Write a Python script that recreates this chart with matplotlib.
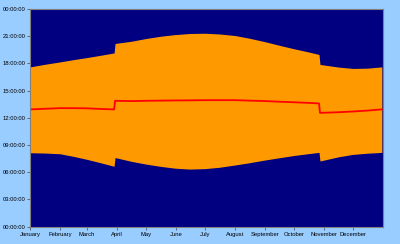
import matplotlib
matplotlib.use("Agg")
from matplotlib import pyplot as plt

# day of year (0 = 1 January), times in hours
days = [0, 15, 31, 45, 59, 73, 87, 88, 105, 120, 135, 150, 165, 181, 196, 212,
        227, 243, 258, 273, 288, 299, 300, 319, 334, 349, 364]
sunrise = [8.15, 8.12, 8.04, 7.75, 7.42, 7.05, 6.66, 7.62, 7.2, 6.9, 6.65, 6.45,
           6.35, 6.4, 6.55, 6.8, 7.05, 7.35, 7.6, 7.85, 8.05, 8.19, 7.24, 7.7,
           7.97, 8.1, 8.19]
sunset = [17.62, 17.9, 18.17, 18.42, 18.65, 18.9, 19.16, 20.2, 20.45, 20.75,
          21.0, 21.18, 21.3, 21.33, 21.25, 21.08, 20.78, 20.4, 20.0, 19.62,
          19.27, 18.99, 17.89, 17.6, 17.45, 17.48, 17.62]
midday = [12.93, 13.0, 13.07, 13.07, 13.05, 12.98, 12.93, 13.88, 13.85, 13.88,
          13.9, 13.92, 13.93, 13.95, 13.95, 13.95, 13.9, 13.85, 13.78, 13.72,
          13.65, 13.59, 12.55, 12.62, 12.7, 12.8, 12.93]

months = ["January", "February", "March", "April", "May", "June", "July",
          "August", "September", "October", "November", "December"]
month_start = [0, 31, 59, 90, 120, 151, 181, 212, 243, 273, 304, 334]
hour_ticks = [0, 3, 6, 9, 12, 15, 18, 21, 24]

plt.rcParams['font.family'] = ['Liberation Sans', 'DejaVu Sans']

fig = plt.figure(figsize=(4.0, 2.44), dpi=100)
fig.patch.set_facecolor('#99CCFF')
ax = fig.add_axes([0.075, 0.071, 0.882, 0.892])
ax.set_facecolor('#000080')

ax.fill_between(days, sunrise, sunset, color='#FF9900', linewidth=0)
ax.plot(days, midday, color='#FF0000', linewidth=1.3)

ax.set_xlim(0, 365)
ax.set_ylim(0, 24)
ax.set_xticks(month_start)
ax.set_xticklabels(months)
ax.set_yticks(hour_ticks)
ax.set_yticklabels(["%02d:00:00" % (h % 24) for h in hour_ticks])
ax.tick_params(labelsize=4.2, length=2, width=0.5, color='#404040', pad=1.5)

for s in ax.spines.values():
    s.set_color('#808080')
    s.set_linewidth(0.8)

fig.savefig("out.png", dpi=100, facecolor=fig.get_facecolor())
